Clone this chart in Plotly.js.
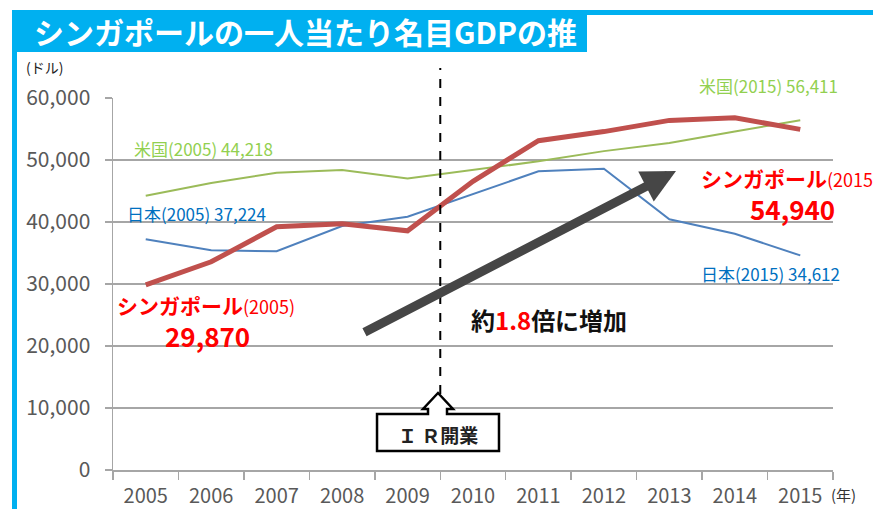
<!DOCTYPE html>
<html>
<head>
<meta charset="utf-8">
<script src="https://cdn.plot.ly/plotly-3.0.1.min.js"></script>
<style>html,body{margin:0;padding:0;background:#fff;}#chart{width:873px;height:509px;}</style>
</head>
<body>
<div id="chart"></div>
<script>
// ---- data ----
const years = ['2005','2006','2007','2008','2009','2010','2011','2012','2013','2014','2015'];
const singapore = [29870, 33580, 39220, 39720, 38580, 46570, 53120, 54580, 56390, 56800, 54940];
const japan     = [37224, 35430, 35280, 39340, 40860, 44510, 48170, 48600, 40450, 38100, 34612];
const usa       = [44218, 46300, 47950, 48380, 47000, 48400, 49780, 51430, 52760, 54600, 56411];
const yTicks = [0, 10000, 20000, 30000, 40000, 50000, 60000];

// ---- layout helpers (pixel -> paper) ----
const L = 113, R = 40, T = 98, B = 39, W = 873, H = 509;
const PW = W - L - R, PH = H - T - B;
const fx = px => (px - L) / PW;
const fy = py => (H - B - py) / PH;
const JP = '"Noto Sans CJK JP", "Noto Sans", sans-serif';

function ann(text, px, py, size, color, xanchor, extra) {
  return Object.assign({
    text: text, xref: 'paper', yref: 'paper', x: fx(px), y: fy(py),
    xanchor: xanchor || 'left', yanchor: 'middle', showarrow: false,
    font: {family: JP, size: size, color: color}
  }, extra || {});
}

const traces = [
  {x: years, y: usa, type: 'scatter', mode: 'lines', line: {color: '#9bbb59', width: 2}},
  {x: years, y: japan, type: 'scatter', mode: 'lines', line: {color: '#4f81bd', width: 2}},
  {x: years, y: singapore, type: 'scatter', mode: 'lines', line: {color: '#c0504d', width: 5}}
];

// callout box path (IR開業)
const pts = [[377,414],[428,414],[428,409],[423,409],[438,393],[453,409],[447,409],[447,414],[499,414],[499,451],[377,451]];
const calloutPath = 'M' + pts.map(p => fx(p[0]).toFixed(4) + ',' + fy(p[1]).toFixed(4)).join(' L') + ' Z';

const shapes = [
  // frame
  {type: 'rect', xref: 'paper', yref: 'paper', x0: fx(12), x1: fx(873), y0: fy(10), y1: fy(15), fillcolor: '#00b0f0', line: {width: 0}},
  {type: 'rect', xref: 'paper', yref: 'paper', x0: fx(12), x1: fx(587), y0: fy(10), y1: fy(52), fillcolor: '#00b0f0', line: {width: 0}},
  {type: 'rect', xref: 'paper', yref: 'paper', x0: fx(12), x1: fx(17), y0: fy(10), y1: fy(509), fillcolor: '#00b0f0', line: {width: 0}},
  // dashed IR line
  {type: 'line', xref: 'paper', yref: 'paper', x0: 5/11, x1: 5/11, y0: fy(394), y1: fy(68), line: {color: '#000', width: 2, dash: 'dash'}},
  // callout
  {type: 'path', xref: 'paper', yref: 'paper', path: calloutPath, fillcolor: '#ffffff', line: {color: '#000', width: 2.5}}
];

const annotations = [
  ann('<b>シンガポールの一人当たり名目GDPの推</b>', 32, 31, 30, '#ffffff'),
  ann('(ドル)', 24, 67, 14, '#222'),
  ann('米国(2005) 44,218', 132, 148, 17, '#92d050'),
  ann('日本(2005) 37,224', 125, 213, 17, '#0070c0'),
  ann('<b>シンガポール</b><span style="font-size:18px">(2005)</span>', 115, 305, 21, '#ff0000'),
  ann('<b>29,870</b>', 207, 335, 26, '#ff0000', 'center'),
  ann('米国(2015) 56,411', 697, 85, 17, '#92d050'),
  ann('<b>シンガポール</b><span style="font-size:18px">(2015</span>', 699, 178, 21, '#ff0000'),
  ann('<b>54,940</b>', 792, 208, 26, '#ff0000', 'center'),
  ann('日本(2015) 34,612', 699, 273, 17, '#0070c0'),
  ann('<b>約<span style="color:#ff0000">1.8</span>倍に増加</b>', 469, 319, 24, '#111'),
  ann('<b>Ｉ Ｒ開業</b>', 438, 434, 19, '#222', 'center'),
  ann('(年)', 829, 494, 15, '#333'),
  // big arrow
  {xref: 'paper', yref: 'paper', x: fx(676), y: fy(171), axref: 'pixel', ayref: 'pixel',
   ax: 363 - 676, ay: 333 - 171, text: '', showarrow: true, arrowhead: 2, arrowsize: 0.75,
   arrowwidth: 9, arrowcolor: '#464646', standoff: 0}
];

const layout = {
  width: W, height: H,
  margin: {l: L, r: R, t: T, b: B, pad: 0},
  paper_bgcolor: '#ffffff', plot_bgcolor: '#ffffff',
  showlegend: false, hovermode: false,
  font: {family: JP, color: '#595959'},
  xaxis: {
    type: 'category', range: [-0.5, 10.5], tickson: 'boundaries',
    ticks: 'outside', ticklen: 8, tickwidth: 1.5, tickcolor: '#a6a6a6',
    showline: true, linecolor: '#a6a6a6', linewidth: 1.5, showgrid: false,
    ticklabelstandoff: 7,
    tickfont: {family: JP, size: 20, color: '#595959'}, fixedrange: true
  },
  yaxis: {
    range: [0, 60000], tickvals: yTicks, tickformat: ',d',
    ticks: 'outside', ticklen: 7, tickwidth: 1.5, tickcolor: '#a6a6a6',
    showline: true, linecolor: '#a6a6a6', linewidth: 1.5,
    showgrid: true, gridcolor: '#a6a6a6', gridwidth: 1.5, zeroline: false,
    ticklabelstandoff: 10,
    tickfont: {family: JP, size: 21, color: '#595959'}, fixedrange: true
  },
  shapes: shapes,
  annotations: annotations
};

Plotly.newPlot('chart', traces, layout, {staticPlot: true, displayModeBar: false});
</script>
</body>
</html>
